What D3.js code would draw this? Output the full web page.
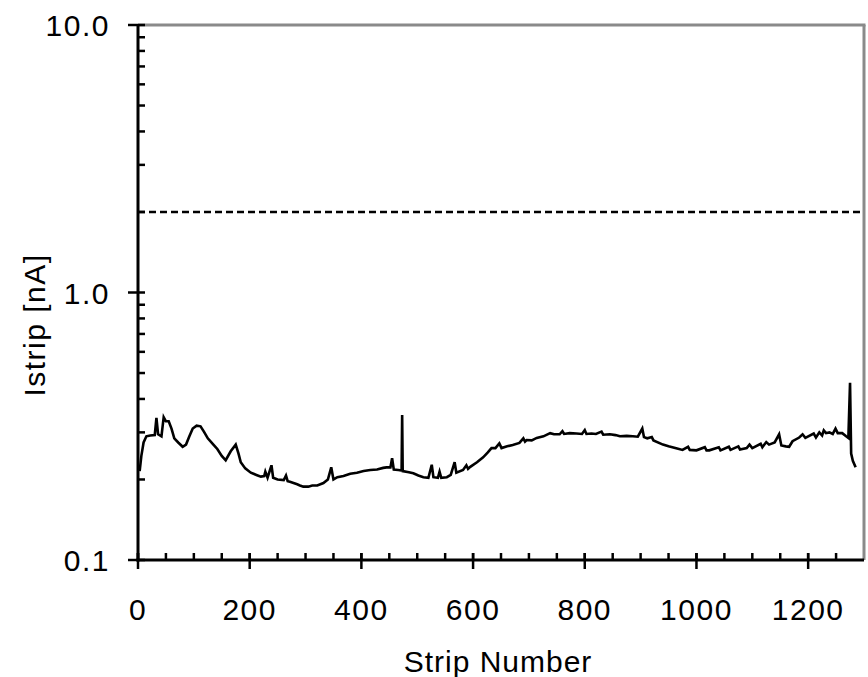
<!DOCTYPE html>
<html><head><meta charset="utf-8">
<script src="https://cdn.jsdelivr.net/npm/d3@7"></script>
<style>
body{margin:0;background:#fff;}
text{font-family:"Liberation Sans",Arial,sans-serif;fill:#000;}
</style></head>
<body><svg id="chart" width="868" height="677"></svg>
<script>
// ---- data ----
const strip = [3,6,10,15,22,30,33,36,42,46,50,55,60,65,72,80,86,92,98,105,112,118,125,135,142,150,157,166,175,180,184,192,202,212,220,226,228,232,239,242,250,261,265,268,272,285,290,296,305,312,321,332,340,346,350,357,368,380,392,404,416,428,439,445,452,455,458,466,472,473,474,485,493,502,511,520,526,529,537,540,543,553,560,567,570,582,588,591,595,607,618,626,633,640,647,651,661,671,683,690,693,696,705,714,726,738,745,755,760,763,773,785,795,800,803,812,820,830,833,845,855,863,875,886,895,903,906,912,920,923,940,950,962,975,985,988,1000,1015,1018,1023,1040,1043,1058,1061,1075,1078,1090,1095,1100,1115,1118,1125,1130,1140,1148,1152,1160,1166,1172,1184,1190,1195,1210,1214,1220,1225,1228,1232,1238,1244,1249,1253,1261,1268,1272,1275,1277,1280,1285];
const istrip = [0.215,0.245,0.275,0.29,0.292,0.293,0.34,0.295,0.29,0.342,0.33,0.33,0.31,0.285,0.275,0.265,0.27,0.29,0.31,0.318,0.316,0.302,0.285,0.27,0.26,0.245,0.236,0.255,0.27,0.25,0.232,0.22,0.212,0.208,0.205,0.206,0.214,0.203,0.226,0.203,0.2,0.199,0.207,0.197,0.196,0.192,0.19,0.188,0.188,0.19,0.19,0.194,0.2,0.222,0.2,0.204,0.206,0.21,0.212,0.215,0.217,0.218,0.221,0.222,0.222,0.24,0.218,0.217,0.216,0.348,0.215,0.213,0.211,0.207,0.204,0.203,0.227,0.204,0.203,0.214,0.203,0.204,0.208,0.232,0.212,0.217,0.226,0.219,0.223,0.232,0.242,0.252,0.262,0.262,0.273,0.262,0.266,0.269,0.274,0.285,0.277,0.281,0.28,0.286,0.29,0.298,0.295,0.295,0.303,0.296,0.298,0.297,0.296,0.306,0.296,0.297,0.296,0.302,0.294,0.295,0.293,0.29,0.291,0.29,0.289,0.31,0.288,0.285,0.288,0.28,0.27,0.266,0.262,0.258,0.265,0.258,0.257,0.264,0.257,0.257,0.264,0.257,0.265,0.258,0.266,0.259,0.262,0.27,0.262,0.272,0.264,0.276,0.27,0.275,0.295,0.268,0.266,0.265,0.278,0.287,0.295,0.286,0.297,0.287,0.3,0.292,0.305,0.298,0.3,0.296,0.31,0.298,0.298,0.29,0.286,0.46,0.25,0.235,0.222];
const limitValue = 2.0;
const xMajor = [0,200,400,600,800,1000,1200];
const xMinor = d3.range(0,1300,50);
const yMajor = [0.1,1,10];
const yLabels = ["0.1","1.0","10.0"];
const yMinor = [0.2,0.3,0.4,0.5,0.6,0.7,0.8,0.9,2,3,4,5,6,7,8,9];
const xTitle = "Strip Number";
const yTitle = "Istrip [nA]";

// ---- scales ----
const L=138, R=864, T=25, B=560;
const x = d3.scaleLinear().domain([0,1300]).range([L,R]);
const y = d3.scaleLog().domain([0.1,10]).range([B,T]);
const svg = d3.select("#chart");

// frame (gray top/right)
svg.append("line").attr("x1",L).attr("x2",R+1.5).attr("y1",T).attr("y2",T).attr("stroke","#8a8a8a").attr("stroke-width",3);
svg.append("line").attr("x1",R).attr("x2",R).attr("y1",T).attr("y2",B).attr("stroke","#8a8a8a").attr("stroke-width",3);

// dashed limit line
svg.append("line").attr("x1",L).attr("x2",R-1).attr("y1",y(limitValue)).attr("y2",y(limitValue))
  .attr("stroke","#000").attr("stroke-width",2.5).attr("stroke-dasharray","7,4");

// data line
const line = d3.line().x((d,i)=>x(strip[i])).y((d,i)=>y(istrip[i]));
svg.append("path").datum(istrip).attr("d",line).attr("fill","none").attr("stroke","#000")
  .attr("stroke-width",2.6).attr("stroke-linejoin","miter");

// axes lines
svg.append("line").attr("x1",L).attr("x2",L).attr("y1",T).attr("y2",B+1.5).attr("stroke","#000").attr("stroke-width",3);
svg.append("line").attr("x1",L-1.5).attr("x2",R).attr("y1",B).attr("y2",B).attr("stroke","#000").attr("stroke-width",3);

// x ticks
svg.selectAll(".xmin").data(xMinor).join("line").attr("class","xmin")
  .attr("x1",d=>x(d)).attr("x2",d=>x(d)).attr("y1",B).attr("y2",B-7).attr("stroke","#000").attr("stroke-width",2.5);
svg.selectAll(".xmaj").data(xMajor).join("line").attr("class","xmaj")
  .attr("x1",d=>x(d)).attr("x2",d=>x(d)).attr("y1",B-7).attr("y2",B+9).attr("stroke","#000").attr("stroke-width",2.5);
svg.selectAll(".xlab").data(xMajor).join("text").attr("class","xlab")
  .attr("x",d=>x(d)).attr("y",620).attr("text-anchor","middle").attr("font-size",30).attr("letter-spacing","1.5px")
  .text(d=>d);

// y ticks
svg.selectAll(".ymin").data(yMinor).join("line").attr("class","ymin")
  .attr("x1",L).attr("x2",L+7).attr("y1",d=>y(d)).attr("y2",d=>y(d)).attr("stroke","#000").attr("stroke-width",2.5);
svg.selectAll(".ymaj").data(yMajor).join("line").attr("class","ymaj")
  .attr("x1",L-10).attr("x2",L+7).attr("y1",d=>y(d)).attr("y2",d=>y(d)).attr("stroke","#000").attr("stroke-width",2.5);
svg.selectAll(".ylab").data(yMajor).join("text").attr("class","ylab")
  .attr("x",110).attr("y",d=>y(d)+11).attr("text-anchor","end").attr("font-size",30).attr("letter-spacing","1.5px")
  .text((d,i)=>yLabels[i]);

// titles
svg.append("text").attr("x",498).attr("y",672).attr("text-anchor","middle").attr("font-size",30)
  .attr("letter-spacing","1px").text(xTitle);
svg.append("text").attr("transform","translate(45,325) rotate(-90)").attr("text-anchor","middle")
  .attr("font-size",30).attr("letter-spacing","1.5px").text(yTitle);
</script></body></html>
